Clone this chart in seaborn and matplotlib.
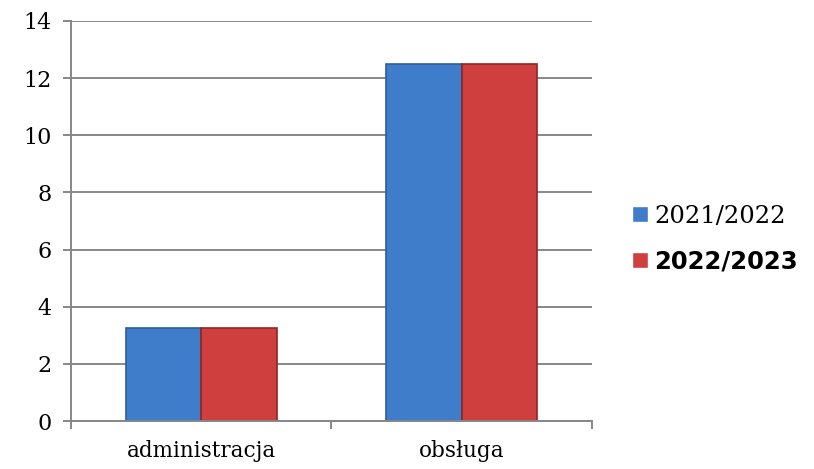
import pandas as pd
import matplotlib.pyplot as plt
import seaborn as sns

categories = ["administracja", "obsługa"]
years = ["2021/2022", "2022/2023"]
values_2122 = [3.25, 12.5]
values_2223 = [3.25, 12.5]

df = pd.DataFrame({
    "kategoria": categories * 2,
    "rok": [years[0]] * 2 + [years[1]] * 2,
    "wartosc": values_2122 + values_2223,
})

sns.set_theme(style="white")
plt.rcParams["font.family"] = ["DejaVu Serif"]
plt.rcParams["text.color"] = "black"
plt.rcParams["xtick.color"] = "black"
plt.rcParams["ytick.color"] = "black"

fig = plt.figure(figsize=(8.14, 4.69), dpi=100)
ax = fig.add_axes([0.087, 0.1023, 0.64, 0.853])

palette = {years[0]: "#3f7cc9", years[1]: "#cf3f3d"}
sns.barplot(data=df, x="kategoria", y="wartosc", hue="rok", palette=palette,
            width=0.58, saturation=1, ax=ax, legend=True)

edges = {years[0]: "#2d5d99", years[1]: "#8e2725"}
for cont, yr in zip(ax.containers, years):
    for bar in cont:
        bar.set_edgecolor(edges[yr])
        bar.set_linewidth(1.2)

ax.set_ylim(0, 14)
ax.set_xlim(-0.5, 1.5)
ax.set_yticks(range(0, 15, 2))
ax.yaxis.grid(True, color="#878787", linewidth=1.4)
ax.set_axisbelow(True)
for s in ["top", "right"]:
    ax.spines[s].set_visible(False)
ax.spines["left"].set_color("#878787")
ax.spines["left"].set_linewidth(1.4)
ax.spines["bottom"].set_color("#878787")
ax.spines["bottom"].set_linewidth(1.4)

ax.set_xticks([-0.5, 0.5, 1.5], minor=False)
ax.set_xticklabels(["", "", ""])
ax.set_xticks([0, 1], minor=True)
ax.set_xticklabels(categories, minor=True, fontsize=15.5)
ax.tick_params(axis="x", which="major", direction="out", length=6, width=1.4,
               color="#878787", bottom=True)
ax.tick_params(axis="x", which="minor", length=0, pad=14)
ax.tick_params(axis="y", direction="out", length=6, width=1.4,
               color="#878787", left=True, labelsize=16, pad=8)
ax.set_xlabel("")
ax.set_ylabel("")

handles, labels = ax.get_legend_handles_labels()
ax.legend_.remove()
leg = fig.legend(handles, labels, loc="center left", bbox_to_anchor=(0.75, 0.49),
                 frameon=False, fontsize=17.5, handlelength=0.65, handleheight=0.65,
                 handletextpad=0.25, labelspacing=0.9)
leg.get_texts()[1].set_fontfamily("DejaVu Sans")
leg.get_texts()[1].set_fontweight("bold")

plt.savefig("out.png", dpi=100)
plt.close()
